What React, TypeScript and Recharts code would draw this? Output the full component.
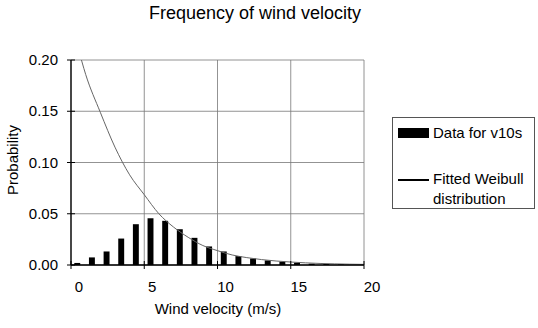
import { ComposedChart, Bar, Line, XAxis, YAxis, CartesianGrid } from "recharts";

// bin centres (m/s) and observed probability for v10s
const binCentres = [0.45, 1.45, 2.45, 3.45, 4.45, 5.45, 6.45, 7.45, 8.45, 9.45, 10.45, 11.45, 12.45, 13.45, 14.45, 15.45, 16.45, 17.45, 18.45];
const observed = [0.002, 0.0074, 0.0132, 0.0258, 0.0398, 0.0456, 0.0431, 0.0349, 0.0265, 0.0181, 0.0132, 0.0087, 0.0064, 0.0045, 0.0032, 0.0023, 0.0013, 0.001, 0.0006];

// fitted Weibull curve, read at whole m/s
const fitVelocity = [0, 1, 2, 3, 4, 5, 6, 7, 8, 9, 10, 11, 12, 13, 14, 15, 16, 17, 18, 19, 20];
const fitted = [0.24, 0.186, 0.149, 0.115, 0.088, 0.0686, 0.05, 0.037, 0.027, 0.019, 0.014, 0.0098, 0.0072, 0.0053, 0.0039, 0.0029, 0.0021, 0.0015, 0.0011, 0.0008, 0.0006];

const xTicks = [0, 5, 10, 15, 20];
const yTicks = [0, 0.05, 0.1, 0.15, 0.2];

const rows = [
  ...binCentres.map((v, i) => ({ v, p: observed[i] })),
  ...fitVelocity.map((v, i) => ({ v, f: fitted[i] })),
].sort((a, b) => a.v - b.v);

const font = "'Liberation Sans', Arial, sans-serif";

const XTick = ({ x, y, payload }: any) => (
  <g>
    <line x1={x} x2={x} y1={y - 4} y2={y + 4} stroke="#000" />
    <text x={x + 8} y={y + 27} textAnchor="middle" fontSize={15} fontFamily={font} fill="#000">
      {payload.value}
    </text>
  </g>
);

const YTick = ({ x, y, payload }: any) => (
  <g>
    <line x1={x - 4} x2={x + 4} y1={y} y2={y} stroke="#000" />
    <text x={x - 13} y={y + 5} textAnchor="end" fontSize={15} fontFamily={font} fill="#000">
      {payload.value.toFixed(2)}
    </text>
  </g>
);

// legend drawn beside the plot, like the Excel original
const LegendBox = () => (
  <div style={{ position: "absolute", left: 392, top: 117, border: "1px solid #555", width: 141, height: 90, fontSize: 15, color: "#000", background: "#fff" }}>
    <div style={{ position: "absolute", left: 5, top: 10, width: 31, height: 10, background: "#000" }} />
    <div style={{ position: "absolute", left: 40, top: 6 }}>Data for v10s</div>
    <div style={{ position: "absolute", left: 5, top: 61, width: 31, height: 1.5, background: "#000" }} />
    <div style={{ position: "absolute", left: 40, top: 51, lineHeight: "20px" }}>Fitted Weibull<br />distribution</div>
  </div>
);

export default function App() {
  return (
    <div style={{ position: "absolute", left: 0, top: 0, width: 538, height: 328, background: "#fff", fontFamily: font }}>
      <div style={{ position: "absolute", left: 0, width: 510, top: 3, textAlign: "center", fontSize: 18 }}>
        Frequency of wind velocity
      </div>
      <div style={{ position: "absolute", left: 12, top: 160, transform: "translate(-50%, -50%) rotate(-90deg)", fontSize: 15, whiteSpace: "nowrap" }}>
        Probability
      </div>
      <div style={{ position: "absolute", left: 218, top: 308, transform: "translate(-50%, -50%)", fontSize: 15, whiteSpace: "nowrap" }}>
        Wind velocity (m/s)
      </div>
      <ComposedChart width={538} height={328} data={rows} margin={{ top: 60, right: 174, bottom: 0, left: 0 }}>
        <CartesianGrid stroke="#777" strokeWidth={0.8} />
        <XAxis
          dataKey="v"
          type="number"
          domain={[0, 20]}
          ticks={xTicks}
          height={63}
          tickSize={0}
          tickMargin={0}
          tickLine={false}
          tick={<XTick />}
          axisLine={{ stroke: "#000", strokeWidth: 1.3 }}
          allowDataOverflow
        />
        <YAxis
          type="number"
          domain={[0, 0.2]}
          ticks={yTicks}
          width={71}
          tickSize={0}
          tickMargin={0}
          tickLine={false}
          tick={<YTick />}
          axisLine={{ stroke: "#000", strokeWidth: 1.3 }}
          allowDataOverflow
        />
        <Bar dataKey="p" name="Data for v10s" fill="#000" barSize={8} isAnimationActive={false} />
        <Line
          dataKey="f"
          name="Fitted Weibull distribution"
          type="monotone"
          stroke="#666"
          strokeWidth={1}
          dot={false}
          connectNulls
          isAnimationActive={false}
        />
      </ComposedChart>
      <LegendBox />
    </div>
  );
}
